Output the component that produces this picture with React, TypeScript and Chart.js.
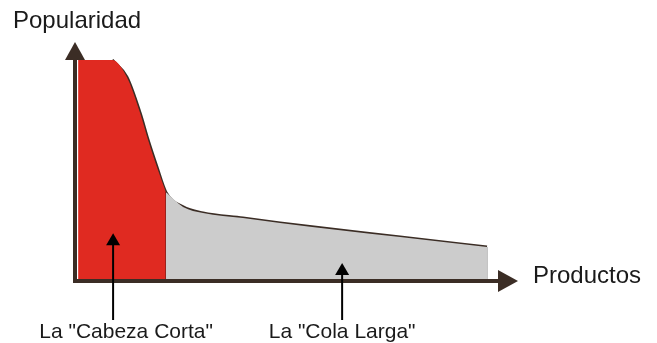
import React, { useEffect, useRef } from "react";
import { Chart, registerables } from "chart.js";

Chart.register(...registerables);

// Curve (x: products 0-100, y: popularity 0-100)
const curveX = [0.7, 8.4, 11.7, 14.7, 16.5, 18.5, 20.5, 24.4, 28.9, 37.9, 46.3, 73.4, 93.0];
const curveY = [92.5, 92.5, 85.4, 70.3, 59.0, 47.7, 37.2, 31.0, 28.5, 26.4, 24.3, 18.4, 14.2];
const headEndIndex = 6; // "Cabeza Corta" ends at this point
const strokeStartIndex = 1;

const yAxisTitle = "Popularidad";
const xAxisTitle = "Productos";
const annotationLabels = ['La "Cabeza Corta"', 'La "Cola Larga"'];
const annotationX = [8.6, 60.3];
const annotationTipY = [20.0, 7.5];

const AXIS_COLOR = "#3b2d25";
const RED = "#e02a21";
const GRAY = "#cccccc";

const pts = (from: number, to: number) =>
  curveX.slice(from, to + 1).map((x, i) => ({ x, y: curveY[from + i] }));

const overlay = {
  id: "overlay",
  afterDatasetsDraw(chart: any) {
    const ctx = chart.ctx as CanvasRenderingContext2D;
    const xs = chart.scales.x;
    const ys = chart.scales.y;
    const x0 = xs.getPixelForValue(0);
    const y0 = ys.getPixelForValue(0);
    const top = ys.getPixelForValue(100);
    const right = xs.getPixelForValue(100);
    ctx.save();
    // axes
    ctx.strokeStyle = AXIS_COLOR;
    ctx.fillStyle = AXIS_COLOR;
    ctx.lineWidth = 4;
    ctx.lineCap = "butt";
    ctx.beginPath();
    ctx.moveTo(x0, y0 + 2);
    ctx.lineTo(x0, top + 15);
    ctx.moveTo(x0 - 2, y0);
    ctx.lineTo(right - 15, y0);
    ctx.stroke();
    ctx.beginPath();
    ctx.moveTo(x0, top);
    ctx.lineTo(x0 - 10, top + 18);
    ctx.lineTo(x0 + 10, top + 18);
    ctx.closePath();
    ctx.fill();
    ctx.beginPath();
    ctx.moveTo(right, y0);
    ctx.lineTo(right - 20, y0 - 11);
    ctx.lineTo(right - 20, y0 + 11);
    ctx.closePath();
    ctx.fill();

    // titles
    ctx.fillStyle = "#1a1a1a";
    ctx.font = "24px 'Liberation Sans', Arial, sans-serif";
    ctx.textBaseline = "alphabetic";
    ctx.textAlign = "left";
    ctx.fillText(yAxisTitle, 13, 28);
    ctx.fillText(xAxisTitle, right + 15, y0 + 2);

    // annotations
    ctx.strokeStyle = "#000";
    ctx.fillStyle = "#000";
    ctx.lineWidth = 2;
    ctx.font = "21px 'Liberation Sans', Arial, sans-serif";
    ctx.textAlign = "center";
    annotationLabels.forEach((label, i) => {
      const ax = xs.getPixelForValue(annotationX[i]);
      const tip = ys.getPixelForValue(annotationTipY[i]);
      ctx.beginPath();
      ctx.moveTo(ax, y0 + 39);
      ctx.lineTo(ax, tip + 8);
      ctx.stroke();
      ctx.beginPath();
      ctx.moveTo(ax, tip);
      ctx.lineTo(ax - 7, tip + 12);
      ctx.lineTo(ax + 7, tip + 12);
      ctx.closePath();
      ctx.fill();
      ctx.fillStyle = "#1a1a1a";
      ctx.fillText(label, ax + (i === 0 ? 13 : 0), y0 + 57);
      ctx.fillStyle = "#000";
    });
    ctx.restore();
  },
};

export default function App() {
  const ref = useRef<HTMLCanvasElement>(null);
  useEffect(() => {
    document.body.style.margin = "0";
    const headEnd = curveX[headEndIndex];
    const chart = new Chart(ref.current!, {
      type: "line",
      data: {
        datasets: [
          {
            data: pts(0, headEndIndex),
            fill: "origin",
            backgroundColor: RED,
            borderWidth: 0,
            pointRadius: 0,
            cubicInterpolationMode: "monotone",
          },
          {
            data: pts(headEndIndex, curveX.length - 1),
            fill: "origin",
            backgroundColor: GRAY,
            borderColor: "#aaaaaa",
            borderWidth: 0,
            pointRadius: 0,
            cubicInterpolationMode: "monotone",
          },
          {
            data: [
              { x: curveX[curveX.length - 1], y: 0 },
              { x: curveX[curveX.length - 1], y: curveY[curveY.length - 1] },
            ],
            borderColor: "#b0b0b0",
            borderWidth: 1.5,
            pointRadius: 0,
            fill: false,
          },
          {
            data: [
              { x: headEnd, y: 0 },
              { x: headEnd, y: curveY[headEndIndex] },
            ],
            borderColor: "#000",
            borderWidth: 1.5,
            pointRadius: 0,
            fill: false,
          },
          {
            data: pts(strokeStartIndex, curveX.length - 1),
            borderColor: AXIS_COLOR,
            borderWidth: 3,
            pointRadius: 0,
            fill: false,
            cubicInterpolationMode: "monotone",
          },
        ],
      } as any,
      options: {
        animation: false,
        responsive: false,
        devicePixelRatio: 1,
        layout: { padding: { left: 75, right: 139, top: 42, bottom: 62 } },
        plugins: { legend: { display: false }, tooltip: { enabled: false } },
        scales: {
          x: { type: "linear", min: 0, max: 100, display: false },
          y: { min: 0, max: 100, display: false },
        },
      },
      plugins: [overlay],
    });
    return () => chart.destroy();
  }, []);
  return (
    <div style={{ position: "fixed", left: 0, top: 0, width: 657, height: 343, background: "#fff" }}>
      <canvas ref={ref} width={657} height={343} style={{ display: "block" }} />
    </div>
  );
}
